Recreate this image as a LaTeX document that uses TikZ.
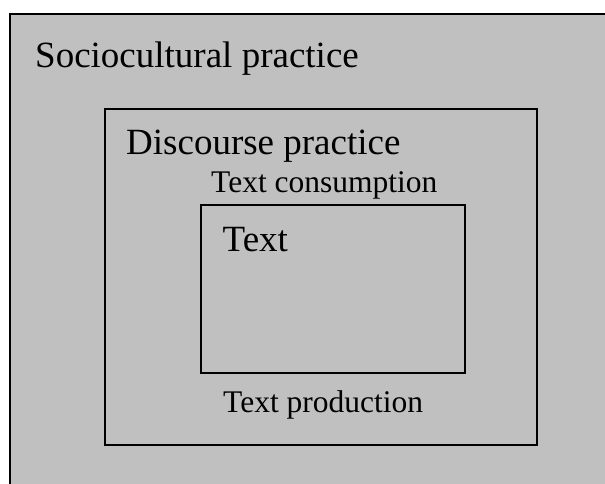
\documentclass[tikz,border=0pt]{standalone}
\usepackage{fontspec}
\setmainfont{Liberation Serif}
\definecolor{boxgray}{HTML}{C0C0C0}
\begin{document}
\begin{tikzpicture}[x=1pt,y=-1pt,
  frame/.style={draw=black,line width=1.6pt,fill=boxgray,anchor=north west,inner sep=0pt,outer sep=0pt},
  big/.style={anchor=base west,inner sep=0pt,font=\fontsize{37}{41}\selectfont},
  small/.style={anchor=base west,inner sep=0pt,font=\fontsize{31.5}{35}\selectfont}]
\useasboundingbox (0,0) rectangle (605,484);
\clip (0,0) rectangle (605,484);
\fill[white] (0,0) rectangle (605,484);
\node[frame,line width=2pt,minimum width=605pt,minimum height=480pt] (outer) at (10,14) {};
\node[frame,minimum width=432pt,minimum height=336pt] (middle) at (105,109) {};
\node[frame,minimum width=264pt,minimum height=168pt] (inner) at (201,205) {};
\node[big] (soc) at (35,68) {Sociocultural practice};
\node[big] (disc) at (126,154) {Discourse practice};
\node[small] (cons) at (211,192) {Text consumption};
\node[big] (txt) at (222.5,251) {Text};
\node[small] (prod) at (223,412) {Text production};
\end{tikzpicture}
\end{document}
